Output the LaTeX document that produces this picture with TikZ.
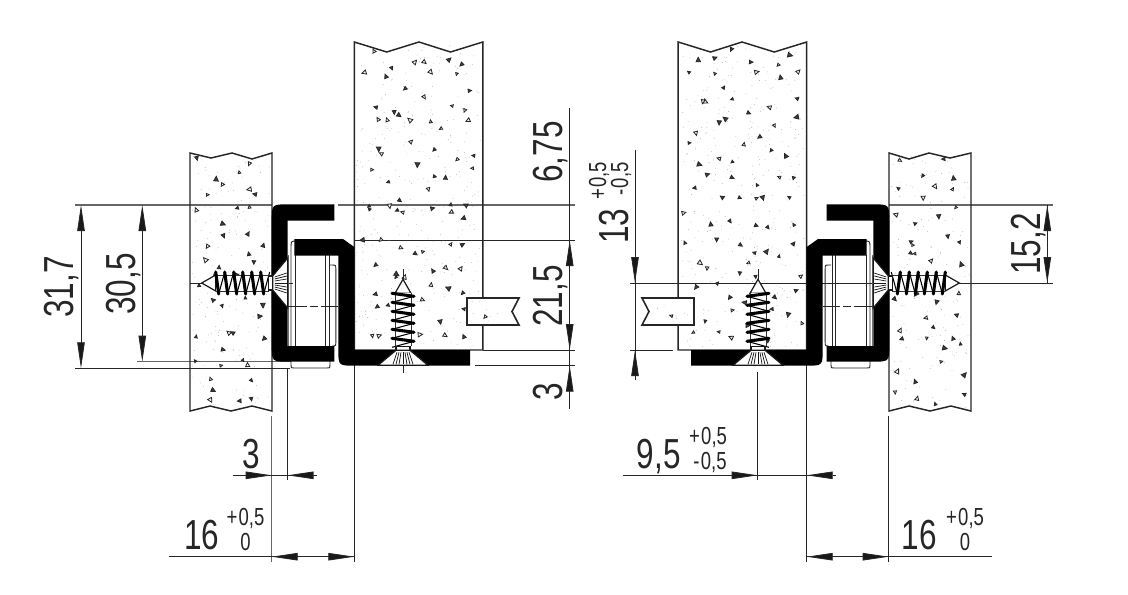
\documentclass[tikz,border=0pt]{standalone}
\usepackage{fontspec}
\setmainfont[FakeStretch=0.75]{Liberation Sans}
\usetikzlibrary{arrows.meta}
\tikzset{
  big/.style={inner sep=0pt,anchor=base,font=\fontsize{31.5}{34}\selectfont,text=black!85},
  tiny/.style={inner sep=0pt,anchor=base,font=\fontsize{18.5}{20}\selectfont,text=black!85},
  thinl/.style={line width=0.75pt,black!85},
  grayl/.style={line width=0.85pt,black!60},
  wall/.style={line width=1.1pt,black!85,line join=miter},
  dimtip/.style={line width=0.6pt,black!85,-{Triangle[length=19.5pt,width=5.6pt,fill=black!90]}},
  rol/.style={line width=0.7pt,black!85},
}
\newcommand{\specks}[7]{% x y w h seed cols rows
  \pgfmathsetseed{#5}
  \pgfmathtruncatemacro{\nspeck}{#3/12*#4/10}
  \foreach \i in {1,...,\nspeck}{
    \pgfmathsetmacro{\px}{#1+rnd*#3}\pgfmathsetmacro{\py}{#2+rnd*#4}
    \fill[black!40] (\px,\py) circle[radius=0.28pt];
  }
  \foreach \c in {1,...,#6}{
    \foreach \r in {1,...,#7}{
      \pgfmathsetmacro{\px}{#1+3+(\c-1+rnd)*(#3-6)/#6}
      \pgfmathsetmacro{\py}{#2+3+(\r-1+rnd)*(#4-6)/#7}
      \pgfmathsetmacro{\ang}{rnd*360}
      \pgfmathsetmacro{\sz}{1.3+rnd*1.1}
      \pgfmathsetmacro{\shade}{rnd<0.6?75:5}
      \draw[line width=0.6pt,black!85,fill=black!\shade,rotate around={\ang:(\px,\py)}]
        (\px-\sz,\py+\sz) -- (\px+\sz,\py+\sz) -- (\px,\py-\sz) -- cycle;
    }
  }
}
\newcommand{\screwpart}{% local: v across, u along, tip at u=0
  \draw[line width=0.9pt,black!90,fill=white] (-8,14) -- (0,0) -- (8,14) -- cycle;
  \fill[white] (-8,14) rectangle (8,70);
  \draw[line width=0.5pt,black!80] (-8,14) -- (-8,67) (8,14) -- (8,67);
  \foreach \u in {14,23,32,41,50,59}{
    \draw[line width=0.8pt,black] (11,\u+3) -- (-11,\u+9);
    \draw[line width=2.3pt,black,line cap=round] (-11,\u) -- (11,\u+3);
  }
  \draw[line width=0.9pt,black!90,fill=white] (-7,67) rectangle (7,72);
  \draw[line width=0.9pt,black!90,fill=white] (-7,71) -- (-25,86) -- (25,86) -- (7,71) -- cycle;
  \foreach \a/\b in {-6/-10,-4/-7,-2/-4,0/0,2/4,4/7,6/10}{
    \draw[line width=0.55pt,black!90] (\a,73) -- (\b,85);
  }
}
\newcommand{\halfdrawing}[3]{%
  % panels
  \specks{192}{155}{78}{254}{#1}{4}{11}
  \specks{356}{45}{125}{303}{#2}{6}{13}
  \draw[wall] (272,153) -- (252,159) -- (232,153) -- (211,158) -- (190,153) -- (190,411) -- (210,406) -- (231,411) -- (252,406) -- (272,411) -- cycle;
  \draw[wall] (354.3,350) -- (354.3,42) -- (386.7,52) -- (419,42) -- (450.5,52) -- (482.8,42) -- (482.8,350) -- (354.3,350);
  % tenon
  \draw[line width=1.2pt,black!85,fill=white] (467,298) -- (519,298) -- (512,311.5) -- (519,325) -- (467,325) -- cycle;
  \specks{470}{300}{38}{23}{#3}{1}{1}
  % roller
  \draw[rol] (291,360) -- (291,365) .. controls (291,368) .. (294,368) -- (327,368) .. controls (330,368) .. (330,365) -- (330,358);
  \draw[rol] (291,350) -- (291,248) .. controls (291,241) .. (297,241);
  \draw[line width=1.2pt,black!55] (288.6,255) -- (288.6,346);
  \draw[rol] (295,255) -- (295,346);
  \draw[rol] (325.7,255) -- (325.7,346) (329,255) -- (329,346);
  \draw[rol] (330,265) -- (332,265) .. controls (335.8,265) .. (335.8,269) -- (335.8,342) .. controls (335.8,346) .. (332,346);
  \draw[line width=0.8pt,black!85,dash pattern=on 15pt off 2.2pt on 6pt off 2.2pt] (287,306.7) -- (338,306.7);
  % profiles
  \fill[black] (334.3,204.3) -- (289,204.3) .. controls (271.7,204.3) .. (271.7,221) -- (271.7,345) .. controls (271.7,361.7) .. (289,361.7) -- (334.3,361.7) -- (334.3,346) -- (287.7,346) -- (287.7,220.7) -- (334.3,220.7) -- cycle;
  \fill[black] (294.3,239) -- (343,239) -- (354.3,247) -- (354.3,350) -- (470,350) -- (470,365.7) -- (355,365.7) .. controls (338.3,365.7) .. (338.3,349) -- (338.3,255.7) -- (294.3,255.7) -- cycle;
  % screws
  \begin{scope}[shift={(201.7,283)},x={(0pt,-0.75pt)},y={(0.75pt,0pt)}]\screwpart\end{scope}
  \begin{scope}[shift={(403,279.3)}]\screwpart\end{scope}
  \draw[thinl] (403,269) -- (403,279.3);
}
\begin{document}
\begin{tikzpicture}[x=0.75pt,y=-0.75pt]
\useasboundingbox (0,0) rectangle (1128,594);
\fill[white] (0,0) rectangle (1128,594);

% extension lines and axes below the parts
\draw[grayl] (75,205) -- (272,205);
\draw[grayl] (338,205) -- (575,205);
\draw[thinl] (75,368.3) -- (290,368.3);
\draw[grayl] (137,361.7) -- (291,361.7);
\draw[thinl] (354,240) -- (575,240);
\draw[thinl] (483,350) -- (575,350);
\draw[thinl] (475,365.7) -- (575,365.7);
\draw[thinl] (630,283) -- (1052.7,283);
\draw[thinl] (630,350) -- (673,350);
\draw[grayl] (888.7,205) -- (1052.7,205);
\draw[thinl] (190,283) -- (293,283);
\draw[grayl] (271.7,416) -- (271.7,561.7);
\draw[thinl] (287.5,368) -- (287.5,480);
\draw[thinl] (354.3,350) -- (354.3,561.7);
\draw[thinl] (806.7,350) -- (806.7,561.7);
\draw[thinl] (888.7,416) -- (888.7,561.7);
\draw[thinl] (757.7,372) -- (757.7,480);
\draw[thinl] (403,366) -- (403,372.7);

\halfdrawing{11}{23}{5}
\begin{scope}[shift={(1161,0)},xscale=-1]
\halfdrawing{37}{52}{8}
\end{scope}

% vertical dimensions
\draw[dimtip] (81,240) -- (81,205);
\draw[dimtip] (81,330) -- (81,368.3);
\draw[thinl] (81,240) -- (81,330);
\draw[dimtip] (142.3,240) -- (142.3,205);
\draw[dimtip] (142.3,330) -- (142.3,361.7);
\draw[thinl] (142.3,240) -- (142.3,330);
\draw[thinl] (569.7,108) -- (569.7,409);
\draw[dimtip] (569.7,270) -- (569.7,240);
\draw[dimtip] (569.7,320) -- (569.7,350);
\draw[dimtip] (569.7,396) -- (569.7,365.7);
\draw[thinl] (635,150) -- (635,376);
\draw[dimtip] (635,254) -- (635,283);
\draw[dimtip] (635,380) -- (635,350);
\draw[thinl] (1047.3,205) -- (1047.3,283);
\draw[dimtip] (1047.3,235) -- (1047.3,205);
\draw[dimtip] (1047.3,253) -- (1047.3,283);

% horizontal dimensions
\draw[thinl] (233,475.3) -- (313,475.3);
\draw[dimtip] (242,475.3) -- (271.7,475.3);
\draw[dimtip] (317,475.3) -- (287.5,475.3);
\draw[thinl] (169,556.7) -- (354.3,556.7);
\draw[dimtip] (302,556.7) -- (271.7,556.7);
\draw[dimtip] (324,556.7) -- (354.3,556.7);
\draw[thinl] (622.7,475.3) -- (832,475.3);
\draw[dimtip] (728,475.3) -- (757.7,475.3);
\draw[dimtip] (836,475.3) -- (806.7,475.3);
\draw[thinl] (806.7,556.7) -- (991.7,556.7);
\draw[dimtip] (836,556.7) -- (806.7,556.7);
\draw[dimtip] (859,556.7) -- (888.7,556.7);

% labels
\node[big,rotate=90] (a1) at (73,287) {31,7};
\node[big,rotate=90] (a2) at (135,284) {30,5};
\node[big,rotate=90] (a3) at (562,152) {6,75};
\node[big,rotate=90] (a4) at (562,296) {21,5};
\node[big,rotate=90] (a5) at (562,392) {3};
\node[big,rotate=90] (a6) at (628,226) {13};
\node[tiny,rotate=90] (a7) at (606,181) {+\kern1pt 0,5};
\node[tiny,rotate=90] (a8) at (628,179) {-\kern1pt 0,5};
\node[big,rotate=90] (a9) at (1040,244) {15,2};
\node[big] (b1) at (251,468) {3};
\node[big] (b2) at (202,549) {16};
\node[tiny] (b3) at (245.5,525) {+\kern1pt 0,5};
\node[tiny] (b4) at (245.5,550) {0};
\node[big] (b5) at (658.7,468) {9,5};
\node[tiny] (b6) at (708,444) {+\kern1pt 0,5};
\node[tiny] (b7) at (710,469) {-\kern1pt 0,5};
\node[big] (b8) at (919.5,549) {16};
\node[tiny] (b9) at (965,525) {+\kern1pt 0,5};
\node[tiny] (b10) at (965,550) {0};
\end{tikzpicture}
\end{document}
